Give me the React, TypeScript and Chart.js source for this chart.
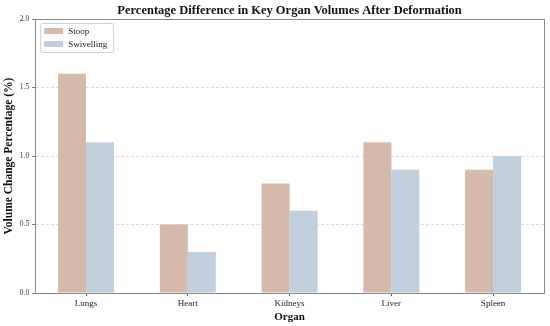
import React, { useEffect, useRef } from "react";
import { Chart, registerables } from "chart.js";

Chart.register(...registerables);

const categories = ["Lungs", "Heart", "Kidneys", "Liver", "Spleen"];
const stoopValues = [1.6, 0.5, 0.8, 1.1, 0.9];
const swivellingValues = [1.1, 0.3, 0.6, 0.9, 1.0];
const seriesNames = ["Stoop", "Swivelling"];
const seriesColors = ["#d5b9ab", "#c1cedc"];

const FONT = "'Liberation Serif', 'Times New Roman', serif";

const framePlugin = {
  id: "frame",
  afterDraw(chart: any) {
    const { ctx, chartArea } = chart;
    ctx.save();
    ctx.strokeStyle = "#8a8a8a";
    ctx.lineWidth = 1;
    ctx.strokeRect(
      Math.round(chartArea.left) + 0.5,
      Math.round(chartArea.top) + 0.5,
      Math.round(chartArea.right - chartArea.left),
      Math.round(chartArea.bottom - chartArea.top)
    );
    ctx.restore();
  },
};

const innerLegendPlugin = {
  id: "innerLegend",
  afterDraw(chart: any) {
    const { ctx, chartArea } = chart;
    const x0 = chartArea.left + 5;
    const y0 = chartArea.top + 4;
    const w = 73;
    const h = 29;
    ctx.save();
    ctx.fillStyle = "rgba(255,255,255,0.8)";
    ctx.strokeStyle = "#d0d0d0";
    ctx.lineWidth = 1;
    ctx.beginPath();
    ctx.roundRect(x0 + 0.5, y0 + 0.5, w, h, 2);
    ctx.fill();
    ctx.stroke();
    ctx.font = `9px ${FONT}`;
    ctx.textBaseline = "middle";
    chart.data.datasets.forEach((ds: any, i: number) => {
      const cy = y0 + 8 + i * 13;
      ctx.fillStyle = ds.backgroundColor;
      ctx.fillRect(x0 + 4, cy - 3, 19, 6);
      ctx.fillStyle = "#222";
      ctx.fillText(ds.label, x0 + 28, cy + 0.5);
    });
    ctx.restore();
  },
};

export default function App() {
  const ref = useRef<HTMLCanvasElement>(null);
  useEffect(() => {
    if (!ref.current) return;
    const chart = new Chart(ref.current, {
      type: "bar",
      data: {
        labels: categories,
        datasets: [
          { label: seriesNames[0], data: stoopValues, backgroundColor: seriesColors[0] },
          { label: seriesNames[1], data: swivellingValues, backgroundColor: seriesColors[1] },
        ],
      },
      options: {
        animation: false,
        responsive: false,
        maintainAspectRatio: false,
        layout: { padding: { left: 2, right: 6, top: 0, bottom: 2 } },
        datasets: { bar: { categoryPercentage: 0.55, barPercentage: 1.0 } },
        plugins: {
          legend: { display: false },
          tooltip: { enabled: false },
          title: {
            display: true,
            text: "Percentage Difference in Key Organ Volumes After Deformation",
            fullSize: false,
            color: "#111",
            font: { family: FONT, size: 12.5, weight: "bold" },
            padding: { top: 3, bottom: 1 },
          },
        },
        scales: {
          x: {
            grid: { display: true, drawOnChartArea: false, drawTicks: true, tickLength: 3, offset: false, color: "#555" },
            border: { display: true, color: "#8a8a8a" },
            ticks: { color: "#222", font: { family: FONT, size: 9 }, padding: 2 },
            title: {
              display: true,
              text: "Organ",
              color: "#111",
              font: { family: FONT, size: 11, weight: "bold" },
              padding: { top: 0, bottom: 0 },
            },
          },
          y: {
            min: 0,
            max: 2,
            ticks: {
              stepSize: 0.5,
              color: "#333",
              font: { family: FONT, size: 7.5 },
              padding: 3,
              callback: (v: any) => Number(v).toFixed(1),
            },
            grid: {
              color: (c: any) => (c.tick && (c.tick.value === 0 || c.tick.value === 2) ? "rgba(0,0,0,0)" : "#d4d4d4"),
              tickColor: "#555",
              tickLength: 3,
              lineWidth: 0.8,
            },
            border: { display: true, color: "#8a8a8a", dash: [3, 2] },
            title: {
              display: true,
              text: "Volume Change Percentage (%)",
              color: "#111",
              font: { family: FONT, size: 11.5, weight: "bold" },
              padding: { top: 0, bottom: 1 },
            },
          },
        },
      },
      plugins: [framePlugin, innerLegendPlugin],
    });
    return () => chart.destroy();
  }, []);
  return (
    <div style={{ position: "absolute", left: 0, top: 0, width: 550, height: 326, background: "#fff" }}>
      <canvas ref={ref} width={550} height={326} />
    </div>
  );
}
